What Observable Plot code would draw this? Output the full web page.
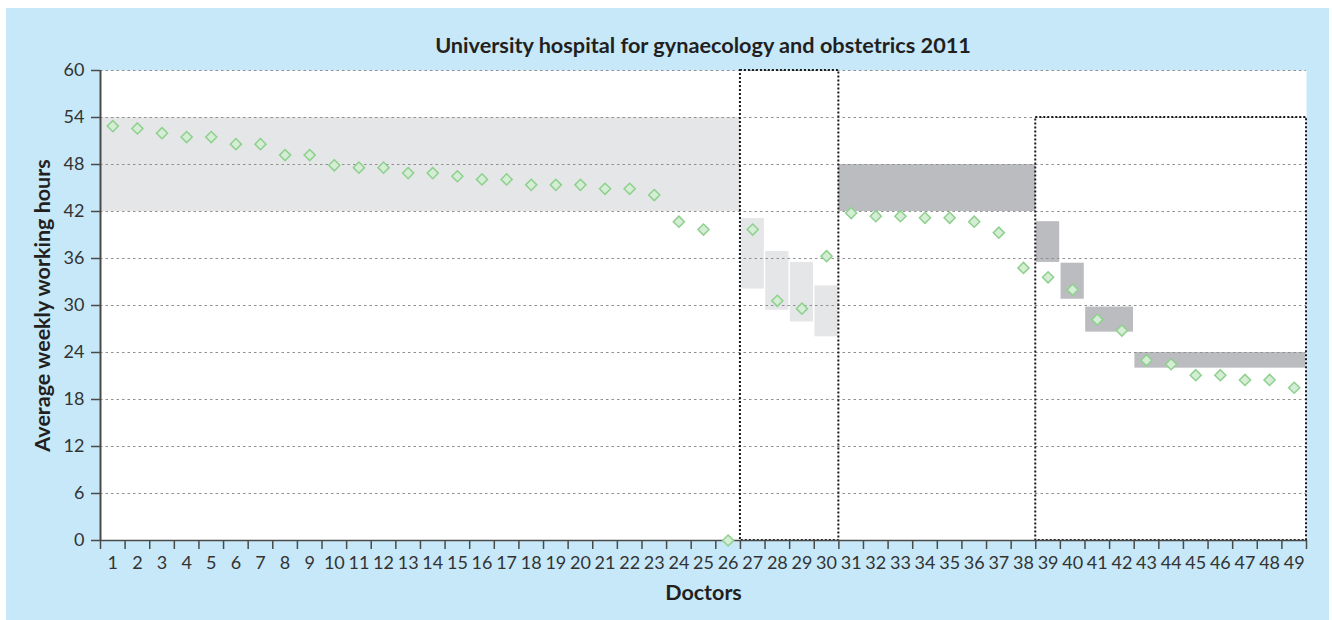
<!DOCTYPE html>
<html>
<head>
<meta charset="utf-8">
<script src="https://cdn.jsdelivr.net/npm/d3@7"></script>
<script src="https://cdn.jsdelivr.net/npm/@observablehq/plot@0.6"></script>
<style>
  html, body { margin: 0; padding: 0; background: #ffffff; }
  #panel { position: absolute; left: 6px; top: 8px; width: 1323px; height: 612px; background: #c6e8f8; overflow: hidden; }
  #title { position: absolute; left: 94px; width: 1206px; top: 24px; height: 26px; line-height: 26px;
           text-align: center; font-family: Lato, sans-serif; font-weight: bold; font-size: 21.7px; color: #231f20; }
  #chart { position: absolute; left: 0; top: 52px; }
</style>
</head>
<body>
<div id="panel">
  <div id="title"></div>
  <div id="chart"></div>
</div>
<script>
const titleText = "University hospital for gynaecology and obstetrics 2011";
const xLabel = "Doctors";
const yLabel = "Average weekly working hours";

const doctors = [1,2,3,4,5,6,7,8,9,10,11,12,13,14,15,16,17,18,19,20,21,22,23,24,25,
                 26,27,28,29,30,31,32,33,34,35,36,37,38,39,40,41,42,43,44,45,46,47,48,49];
const hours = [52.9, 52.6, 52.0, 51.5, 51.5, 50.6, 50.6, 49.2, 49.2, 47.9,
               47.6, 47.6, 46.9, 46.9, 46.5, 46.1, 46.1, 45.4, 45.4, 45.4,
               44.9, 44.9, 44.1, 40.7, 39.7, 0, 39.7, 30.6, 29.6, 36.3,
               41.8, 41.4, 41.4, 41.2, 41.2, 40.7, 39.3, 34.8, 33.6, 32.0,
               28.2, 26.8, 23.0, 22.5, 21.1, 21.1, 20.5, 20.5, 19.5];
const yTicks = [0, 6, 12, 18, 24, 30, 36, 42, 48, 54, 60];

// shaded ranges: first doctor, last doctor, low and high hours
const lightBands = [
  {first: 1, last: 26, low: 42, high: 54},
  {first: 27, last: 27, low: 32.1, high: 41.1},
  {first: 28, last: 28, low: 29.4, high: 36.9},
  {first: 29, last: 29, low: 27.9, high: 35.5},
  {first: 30, last: 30, low: 26.0, high: 32.5}
];
const darkBands = [
  {first: 31, last: 38, low: 42, high: 48},
  {first: 39, last: 39, low: 35.5, high: 40.7},
  {first: 40, last: 40, low: 30.8, high: 35.4},
  {first: 41, last: 42, low: 26.6, high: 29.8},
  {first: 43, last: 49, low: 22, high: 24}
];
const dottedBoxes = [
  {first: 27, last: 30, low: 0, high: 60},
  {first: 39, last: 49, low: 0, high: 54}
];

document.getElementById("title").textContent = titleText;

const data = doctors.map((d, i) => ({doctor: d, hours: hours[i]}));
const boundaries = [0].concat(doctors).map(d => d + 0.5);
const font = "Lato, sans-serif";

const bandRect = (bands, fill, inset) => Plot.rect(bands, {
  x1: d => d.first - 0.5, x2: d => d.last + 0.5, y1: "low", y2: "high",
  fill, insetLeft: inset, insetRight: inset
});

const chart = Plot.plot({
  width: 1323,
  height: 560,
  marginLeft: 94,
  marginRight: 23,
  marginTop: 10,
  marginBottom: 80,
  style: {fontFamily: font, background: "transparent", color: "#333", overflow: "visible"},
  x: {domain: [0.5, 49.5], axis: null},
  y: {domain: [0, 60], axis: null},
  marks: [
    Plot.frame({fill: "white", stroke: "none"}),
    bandRect(lightBands.slice(0, 1), "#e5e6e8", 0),
    bandRect(lightBands.slice(1), "#e5e6e8", 0.7),
    bandRect(darkBands.slice(0, 1), "#bbbcc0", 0),
    bandRect(darkBands.slice(1), "#bbbcc0", 0.7),
    Plot.ruleY(yTicks.filter(t => t > 0), {stroke: "#909090", strokeWidth: 1, strokeDasharray: "2.5,3"}),
    Plot.rect(dottedBoxes, {
      x1: d => d.first - 0.5, x2: d => d.last + 0.5, y1: "low", y2: "high",
      fill: "none", stroke: "#1a1a1a", strokeWidth: 2, strokeDasharray: "2,2"
    }),
    Plot.ruleX([0.5], {stroke: "#4a4a4a", strokeWidth: 2}),
    Plot.ruleY([0], {stroke: "#4a4a4a", strokeWidth: 1.5}),
    Plot.axisY({ticks: yTicks, tickSize: 9, tickPadding: 7, fontSize: 18, label: null,
                stroke: "#4a4a4a", strokeWidth: 1.5, color: "#333"}),
    Plot.axisX({ticks: boundaries, tickSize: 9, tickFormat: () => "", label: null,
                stroke: "#4a4a4a", strokeWidth: 1.5}),
    Plot.axisX({ticks: doctors, tickSize: 0, tickPadding: 16, fontSize: 18, label: null,
                tickFormat: d => String(d), color: "#333"}),
    Plot.text([yLabel], {text: d => d, frameAnchor: "left", textAnchor: "middle", lineAnchor: "middle",
                         rotate: -90, dx: -57, fontSize: 21.5, fontWeight: "bold", fill: "#231f20"}),
    Plot.text([xLabel], {text: d => d, frameAnchor: "bottom", textAnchor: "middle", lineAnchor: "middle",
                         dy: 53, fontSize: 21.5, fontWeight: "bold", fill: "#231f20"}),
    Plot.dot(data, {x: "doctor", y: "hours", symbol: "diamond2", r: 5,
                    stroke: "#8fd08f", strokeWidth: 1.5, fill: "#d4edd4", clip: false})
  ]
});
document.getElementById("chart").appendChild(chart);
</script>
</body>
</html>
